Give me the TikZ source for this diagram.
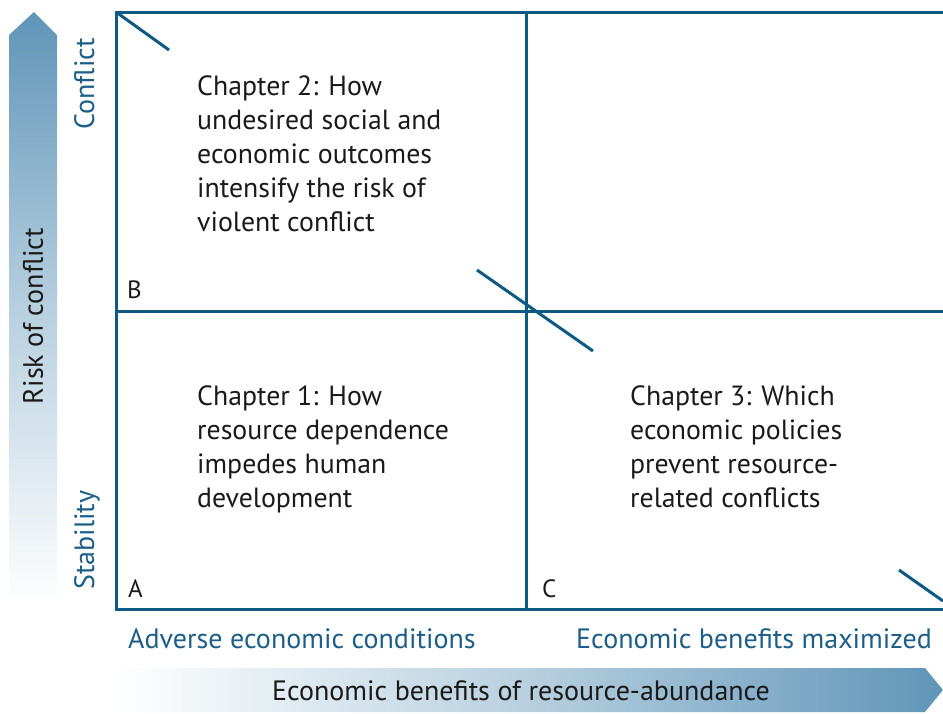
\documentclass[tikz,border=0pt]{standalone}
\usepackage{fontspec}
\setmainfont{PT Sans}
\definecolor{frameblue}{HTML}{0E5A82}
\definecolor{labelblue}{HTML}{1D5E88}
\definecolor{arrowblue}{HTML}{5F95B8}
\definecolor{textdark}{HTML}{1A1A1A}
\tikzset{
  frameline/.style={draw=frameblue, line width=3pt},
  diagline/.style={draw=frameblue, line width=3pt},
  chaptext/.style={anchor=north west, align=left, text=textdark, font=\fontsize{27.8}{34}\selectfont, inner sep=0pt},
  cornerlbl/.style={anchor=base west, text=textdark, font=\fontsize{25}{28}\selectfont, inner sep=0pt},
  axislbl/.style={text=labelblue, font=\fontsize{28}{32}\selectfont, inner sep=0pt},
  arrowtext/.style={text=textdark, font=\fontsize{28}{32}\selectfont, inner sep=0pt}
}
\begin{document}
\begin{tikzpicture}[x=1pt,y=-1pt]
\useasboundingbox (0,0) rectangle (943,713);
% vertical gradient arrow
\shade[top color=arrowblue, bottom color=white, middle color=arrowblue!45]
  (9,605) -- (9,35) -- (34,12) -- (57,35) -- (57,605) -- cycle;
% horizontal gradient arrow
\shade[left color=white, right color=arrowblue, middle color=arrowblue!45]
  (115,668) -- (925,668) -- (943,690) -- (925,712) -- (115,712) -- cycle;
% frame
\coordinate (tl) at (116,12);
\coordinate (tr) at (943,12);
\coordinate (bl) at (116,609);
\coordinate (br) at (943,609);
\coordinate (tm) at (526,12);
\coordinate (bm) at (526,609);
\coordinate (ml) at (116,311);
\coordinate (mr) at (943,311);
\draw[frameline] (tr) -- (tl) -- (bl) -- (br);
\draw[frameline] (tm) -- (bm);
\draw[frameline] (ml) -- (mr);
% diagonal segments
\coordinate (d1a) at (116,12);
\coordinate (d1b) at (169,50);
\coordinate (d2a) at (477,270);
\coordinate (d2b) at (593,351);
\coordinate (d3a) at (899,570);
\coordinate (d3b) at (943,601);
\draw[diagline] (d1a) -- (d1b);
\draw[diagline] (d2a) -- (d2b);
\draw[diagline] (d3a) -- (d3b);
% chapter texts
\node[chaptext] (ch2) at (197,75) {Chapter 2: How\\undesired social and\\economic outcomes\\intensify the risk of\\violent conflict};
\node[chaptext] (ch1) at (197,385) {Chapter 1: How\\resource dependence\\impedes human\\development};
\node[chaptext] (ch3) at (630,385) {Chapter 3: Which\\economic policies\\prevent resource-\\related conflicts};
% corner letters
\node[cornerlbl] (B) at (127,298) {B};
\node[cornerlbl] (A) at (128,597) {A};
\node[cornerlbl] (C) at (542,597) {C};
% axis labels
\node[axislbl, anchor=base west] (adv) at (128,648) {Adverse economic conditions};
\node[axislbl, anchor=base east] (max) at (932,648) {Economic benefits maximized};
\node[axislbl, rotate=90, anchor=base west] (stab) at (94,590) {Stability};
\node[axislbl, rotate=90, anchor=base east] (conf) at (94,38) {Conflict};
\node[arrowtext, rotate=90] (risk) at (33,316) {Risk of conflict};
\node[arrowtext] (econ) at (521,691) {Economic benefits of resource-abundance};
\end{tikzpicture}
\end{document}
